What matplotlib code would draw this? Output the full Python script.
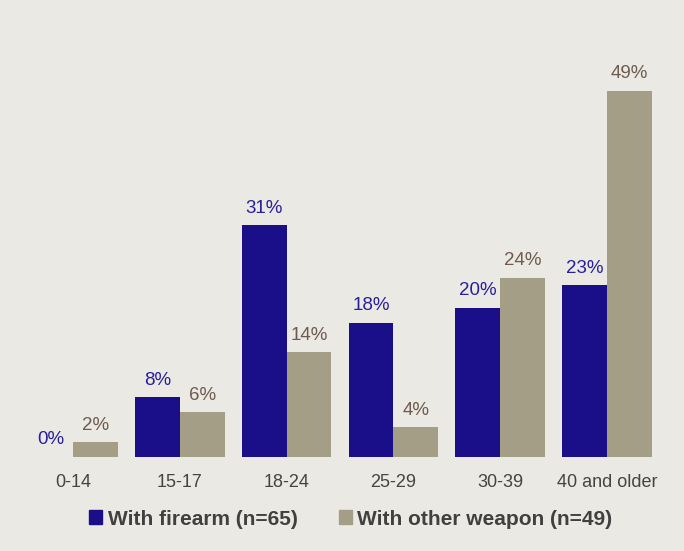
import matplotlib
matplotlib.use("Agg")
import matplotlib.pyplot as plt
import numpy as np
from matplotlib.patches import Patch

plt.rcParams['font.family'] = ['Liberation Sans', 'DejaVu Sans']

age_groups = ['0-14', '15-17', '18-24', '25-29', '30-39', '40 and older']
firearm = [0, 8, 31, 18, 20, 23]
other_weapon = [2, 6, 14, 4, 24, 49]

bg = '#EBE9E4'
navy = '#1B0E89'
khaki = '#A39E85'

fig = plt.figure(figsize=(6.84, 5.51), dpi=100, facecolor=bg)
ax = fig.add_axes([0, 0.1706, 1, 0.7456])
ax.set_facecolor(bg)

x = np.arange(len(age_groups))
w = 0.42
b1 = ax.bar(x - w / 2, firearm, w, color=navy)
b2 = ax.bar(x + w / 2, other_weapon, w, color=khaki)

for rect, v in zip(b1, firearm):
    ax.annotate(f'{v}%', (rect.get_x() + rect.get_width() / 2, v),
                xytext=(0, 9), textcoords='offset points',
                ha='center', va='baseline', fontsize=13.5, color='#2A1F9A')
for rect, v in zip(b2, other_weapon):
    ax.annotate(f'{v}%', (rect.get_x() + rect.get_width() / 2, v),
                xytext=(0, 9), textcoords='offset points',
                ha='center', va='baseline', fontsize=13.5, color='#6E5B4F')

ax.set_xlim(-0.683, 5.72)
ax.set_ylim(0, 55)
ax.set_xticks(x)
ax.set_xticklabels(age_groups, fontsize=13, color='#444444')
ax.tick_params(axis='x', length=0, pad=12)
ax.set_yticks([])
for s in ax.spines.values():
    s.set_visible(False)

handles = [Patch(color=navy, label='With firearm (n=65)'),
           Patch(color=khaki, label='With other weapon (n=49)')]
fig.legend(handles=handles, loc='center', bbox_to_anchor=(0.513, 0.058), ncol=2,
           frameon=False, handlelength=0.62, handleheight=0.62, handletextpad=0.25,
           columnspacing=2.0, prop={'weight': 'bold', 'size': 15},
           labelcolor='#404040')

fig.savefig('out.png', dpi=100, facecolor=bg)
